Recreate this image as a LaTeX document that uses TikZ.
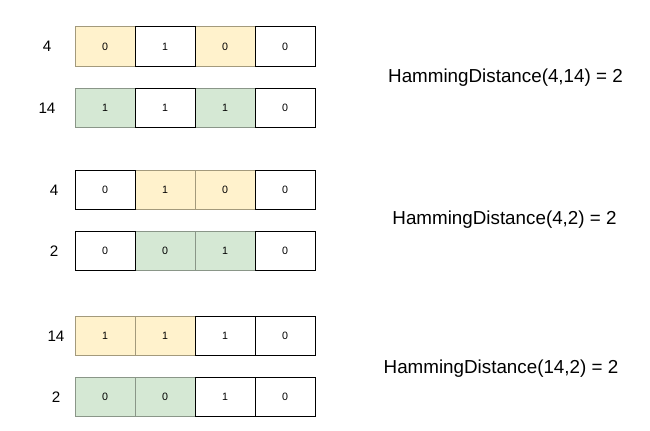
\documentclass[tikz,border=0pt]{standalone}
\usepackage{fontspec}
\setmainfont{Liberation Sans}
\usepackage{tikz}
\usetikzlibrary{positioning}

\definecolor{yfill}{HTML}{FFF2CC}
\definecolor{yline}{HTML}{A39A7C}
\definecolor{gfill}{HTML}{D5E8D4}
\definecolor{gline}{HTML}{8A9688}

\tikzset{
  bit/.style={draw=black, line width=0.75pt, fill=white, minimum width=45pt,
    minimum height=29.5pt, inner sep=0pt, font=\fontsize{8}{9}\selectfont},
  ybit/.style={bit, draw=yline, fill=yfill},
  gbit/.style={bit, draw=gline, fill=gfill},
  num/.style={font=\fontsize{11.4}{13}\selectfont},
  dist/.style={font=\fontsize{14.1}{17}\selectfont}
}

\begin{document}
\begin{tikzpicture}[x=0.75pt, y=-0.75pt]
  \useasboundingbox (0,0) rectangle (650,431);

  % 4 and 14
  \node [ybit] (a1) at (105,46.5) {0};
  \node [ybit] (a3) at (225,46.5) {0};
  \node [bit] (a2) at (165,46.5) {1};
  \node [bit] (a4) at (285,46.5) {0};
  \node [gbit] (b1) at (105,108) {1};
  \node [gbit] (b3) at (225,108) {1};
  \node [bit] (b2) at (165,108) {1};
  \node [bit] (b4) at (285,108) {0};
  \node [num] (na) at (47,46.5) {4};
  \node [num] (nb) at (47,108) {14};
  \node [dist] (hd1) at (505.5,77.5) {HammingDistance(4,14) = 2};

  % 4 and 2
  \node [ybit] (c2) at (165,190) {1};
  \node [ybit] (c3) at (225,190) {0};
  \node [bit] (c1) at (105,190) {0};
  \node [bit] (c4) at (285,190) {0};
  \node [gbit] (d2) at (165,251) {0};
  \node [gbit] (d3) at (225,251) {1};
  \node [bit] (d1) at (105,251) {0};
  \node [bit] (d4) at (285,251) {0};
  \node [num] (nc) at (54,190) {4};
  \node [num] (nd) at (54,251) {2};
  \node [dist] (hd2) at (504.5,219.5) {HammingDistance(4,2) = 2};

  % 14 and 2
  \node [ybit] (e1) at (105,336) {1};
  \node [ybit] (e2) at (165,336) {1};
  \node [bit] (e3) at (225,336) {1};
  \node [bit] (e4) at (285,336) {0};
  \node [gbit] (f1) at (105,397) {0};
  \node [gbit] (f2) at (165,397) {0};
  \node [bit] (f3) at (225,397) {1};
  \node [bit] (f4) at (285,397) {0};
  \node [num] (ne) at (56,336) {14};
  \node [num] (nf) at (56,397) {2};
  \node [dist] (hd3) at (501,369) {HammingDistance(14,2) = 2};
\end{tikzpicture}
\end{document}
